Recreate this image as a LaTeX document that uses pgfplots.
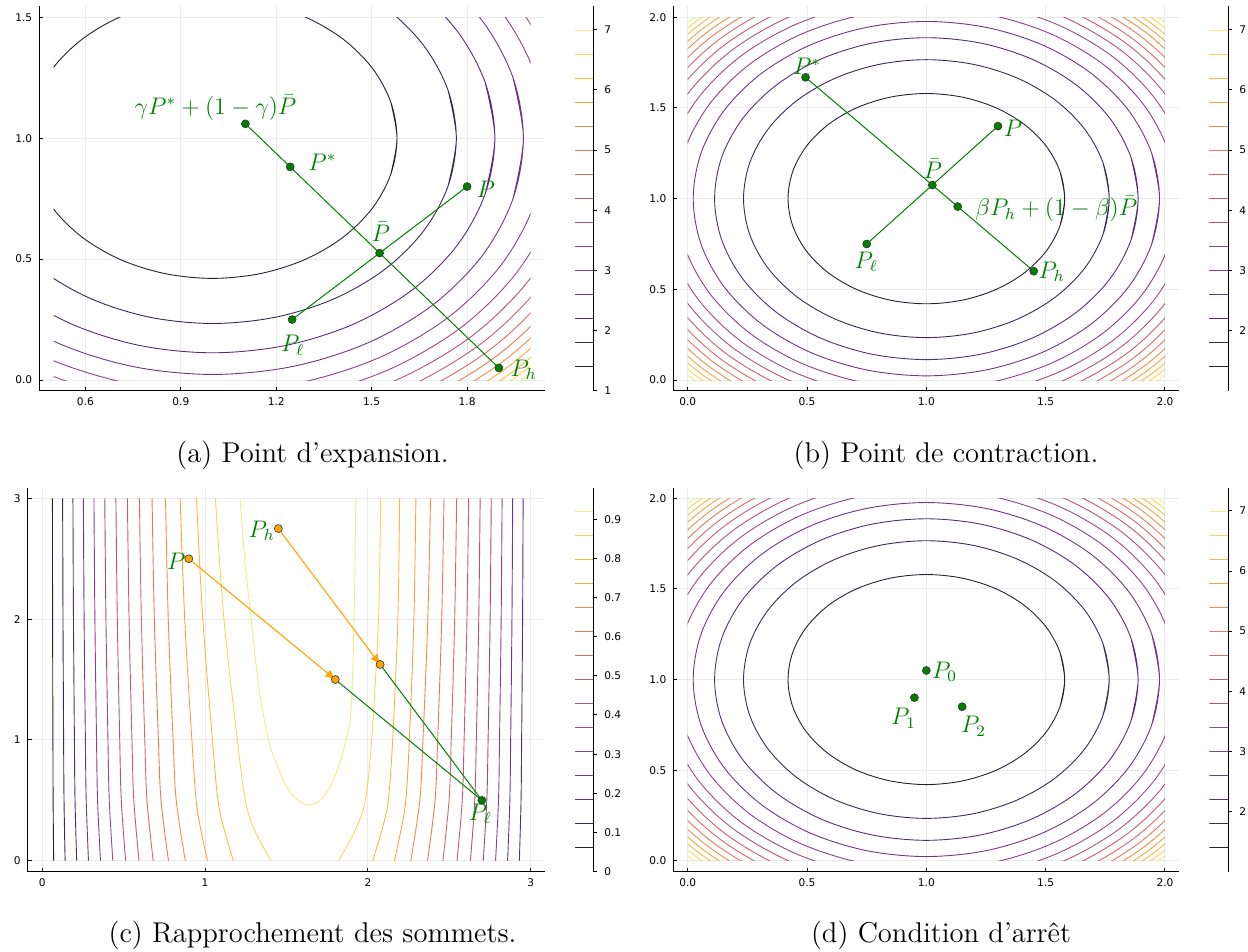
\documentclass[border=0pt]{standalone}
\usepackage{fontspec}
\usepackage{pgfplots}
\pgfplotsset{compat=1.18}
\usepackage{pgfplotstable}
\usetikzlibrary{arrows.meta}
\newfontfamily\tickfont{DejaVu Sans}
\newcommand\tfs{\tickfont\fontsize{5.3}{6}\selectfont}

\definecolor{pgreen}{RGB}{0,128,0}
\definecolor{porange}{RGB}{255,165,0}
\definecolor{gridc}{RGB}{234,234,234}
\definecolor{r1}{RGB}{14,7,37}
\definecolor{r2}{RGB}{33,11,69}
\definecolor{r3}{RGB}{62,10,98}
\definecolor{r4}{RGB}{86,17,107}
\definecolor{r5}{RGB}{111,25,109}
\definecolor{r6}{RGB}{137,34,105}
\definecolor{r7}{RGB}{162,44,96}
\definecolor{r8}{RGB}{188,55,84}
\definecolor{r9}{RGB}{209,71,68}
\definecolor{r10}{RGB}{227,91,50}
\definecolor{r11}{RGB}{241,115,29}
\definecolor{r12}{RGB}{248,143,18}
\definecolor{r13}{RGB}{252,171,18}
\definecolor{r14}{RGB}{248,203,55}
\definecolor{r15}{RGB}{248,230,105}
\colorlet{inf1}{r1!90!white}
\colorlet{inf2}{r2!88!white}
\colorlet{inf3}{r3!86!white}
\colorlet{inf4}{r4!84!white}
\colorlet{inf5}{r5!82!white}
\colorlet{inf6}{r6!82!white}
\colorlet{inf7}{r7!82!white}
\colorlet{inf8}{r8!82!white}
\colorlet{inf9}{r9!82!white}
\colorlet{inf10}{r10!82!white}
\colorlet{inf11}{r11!82!white}
\colorlet{inf12}{r12!82!white}
\colorlet{inf13}{r13!82!white}
\colorlet{inf14}{r14!82!white}
\colorlet{inf15}{r15!85!white}

% contour levels of exp((x-1)^2+(y-1)^2): circles about (1,1), 15 degree steps, seam overlapped
\pgfplotstableread{
x y
1.5599 0.8500
1.5797 1
1.5599 1.1500
1.5020 1.2899
1.4099 1.4099
1.2899 1.5020
1.1500 1.5599
1 1.5797
0.8500 1.5599
0.7101 1.5020
0.5901 1.4099
0.4980 1.2899
0.4401 1.1500
0.4203 1
0.4401 0.8500
0.4980 0.7101
0.5901 0.5901
0.7101 0.4980
0.8500 0.4401
1 0.4203
1.1500 0.4401
1.2899 0.4980
1.4099 0.5901
1.5020 0.7101
1.5599 0.8500
1.5797 1
1.5599 1.1500
}\cA
\pgfplotstableread{
x y
1.7401 0.8017
1.7662 1
1.7401 1.1983
1.6635 1.3831
1.5418 1.5418
1.3831 1.6635
1.1983 1.7401
1 1.7662
0.8017 1.7401
0.6169 1.6635
0.4582 1.5418
0.3365 1.3831
0.2599 1.1983
0.2338 1
0.2599 0.8017
0.3365 0.6169
0.4582 0.4582
0.6169 0.3365
0.8017 0.2599
1 0.2338
1.1983 0.2599
1.3831 0.3365
1.5418 0.4582
1.6635 0.6169
1.7401 0.8017
1.7662 1
1.7401 1.1983
}\cB
\pgfplotstableread{
x y
1.8571 0.7703
1.8874 1
1.8571 1.2297
1.7685 1.4437
1.6275 1.6275
1.4437 1.7685
1.2297 1.8571
1 1.8874
0.7703 1.8571
0.5563 1.7685
0.3725 1.6275
0.2315 1.4437
0.1429 1.2297
0.1126 1
0.1429 0.7703
0.2315 0.5563
0.3725 0.3725
0.5563 0.2315
0.7703 0.1429
1 0.1126
1.2297 0.1429
1.4437 0.2315
1.6275 0.3725
1.7685 0.5563
1.8571 0.7703
1.8874 1
1.8571 1.2297
}\cC
\pgfplotstableread{
x y
1.9437 0.7472
1.9770 1
1.9437 1.2528
1.8461 1.4885
1.6908 1.6908
1.4885 1.8461
1.2528 1.9437
1 1.9770
0.7472 1.9437
0.5115 1.8461
0.3092 1.6908
0.1539 1.4885
0.0563 1.2528
0.0230 1
0.0563 0.7472
0.1539 0.5115
0.3092 0.3092
0.5115 0.1539
0.7472 0.0563
1 0.0230
1.2528 0.0563
1.4885 0.1539
1.6908 0.3092
1.8461 0.5115
1.9437 0.7472
1.9770 1
1.9437 1.2528
}\cD
\pgfplotstableread{
x y
2.0119 0.7289
2.0476 1
2.0119 1.2711
1.9072 1.5238
1.7408 1.7408
1.5238 1.9072
1.2711 2.0119
1 2.0476
0.7289 2.0119
0.4762 1.9072
0.2592 1.7408
0.0928 1.5238
-0.0119 1.2711
-0.0476 1
-0.0119 0.7289
0.0928 0.4762
0.2592 0.2592
0.4762 0.0928
0.7289 -0.0119
1 -0.0476
1.2711 -0.0119
1.5238 0.0928
1.7408 0.2592
1.9072 0.4762
2.0119 0.7289
2.0476 1
2.0119 1.2711
}\cE
\pgfplotstableread{
x y
2.0680 0.7138
2.1057 1
2.0680 1.2862
1.9575 1.5529
1.7818 1.7818
1.5529 1.9575
1.2862 2.0680
1 2.1057
0.7138 2.0680
0.4471 1.9575
0.2182 1.7818
0.0425 1.5529
-0.0680 1.2862
-0.1057 1
-0.0680 0.7138
0.0425 0.4471
0.2182 0.2182
0.4471 0.0425
0.7138 -0.0680
1 -0.1057
1.2862 -0.0680
1.5529 0.0425
1.7818 0.2182
1.9575 0.4471
2.0680 0.7138
2.1057 1
2.0680 1.2862
}\cF
\pgfplotstableread{
x y
2.1155 0.7011
2.1549 1
2.1155 1.2989
2.0001 1.5775
1.8166 1.8166
1.5775 2.0001
1.2989 2.1155
1 2.1549
0.7011 2.1155
0.4225 2.0001
0.1834 1.8166
-0.0001 1.5775
-0.1155 1.2989
-0.1549 1
-0.1155 0.7011
-0.0001 0.4225
0.1834 0.1834
0.4225 -0.0001
0.7011 -0.1155
1 -0.1549
1.2989 -0.1155
1.5775 -0.0001
1.8166 0.1834
2.0001 0.4225
2.1155 0.7011
2.1549 1
2.1155 1.2989
}\cG
\pgfplotstableread{
x y
2.1566 0.6901
2.1974 1
2.1566 1.3099
2.0369 1.5987
1.8467 1.8467
1.5987 2.0369
1.3099 2.1566
1 2.1974
0.6901 2.1566
0.4013 2.0369
0.1533 1.8467
-0.0369 1.5987
-0.1566 1.3099
-0.1974 1
-0.1566 0.6901
-0.0369 0.4013
0.1533 0.1533
0.4013 -0.0369
0.6901 -0.1566
1 -0.1974
1.3099 -0.1566
1.5987 -0.0369
1.8467 0.1533
2.0369 0.4013
2.1566 0.6901
2.1974 1
2.1566 1.3099
}\cH
\pgfplotstableread{
x y
2.1927 0.6804
2.2348 1
2.1927 1.3196
2.0693 1.6174
1.8731 1.8731
1.6174 2.0693
1.3196 2.1927
1 2.2348
0.6804 2.1927
0.3826 2.0693
0.1269 1.8731
-0.0693 1.6174
-0.1927 1.3196
-0.2348 1
-0.1927 0.6804
-0.0693 0.3826
0.1269 0.1269
0.3826 -0.0693
0.6804 -0.1927
1 -0.2348
1.3196 -0.1927
1.6174 -0.0693
1.8731 0.1269
2.0693 0.3826
2.1927 0.6804
2.2348 1
2.1927 1.3196
}\cI
\pgfplotstableread{
x y
2.2249 0.6718
2.2681 1
2.2249 1.3282
2.0982 1.6341
1.8967 1.8967
1.6341 2.0982
1.3282 2.2249
1 2.2681
0.6718 2.2249
0.3659 2.0982
0.1033 1.8967
-0.0982 1.6341
-0.2249 1.3282
-0.2681 1
-0.2249 0.6718
-0.0982 0.3659
0.1033 0.1033
0.3659 -0.0982
0.6718 -0.2249
1 -0.2681
1.3282 -0.2249
1.6341 -0.0982
1.8967 0.1033
2.0982 0.3659
2.2249 0.6718
2.2681 1
2.2249 1.3282
}\cJ
\pgfplotstableread{
x y
2.2539 0.6641
2.2981 1
2.2539 1.3359
2.1242 1.6491
1.9179 1.9179
1.6491 2.1242
1.3359 2.2539
1 2.2981
0.6641 2.2539
0.3509 2.1242
0.0821 1.9179
-0.1242 1.6491
-0.2539 1.3359
-0.2981 1
-0.2539 0.6641
-0.1242 0.3509
0.0821 0.0821
0.3509 -0.1242
0.6641 -0.2539
1 -0.2981
1.3359 -0.2539
1.6491 -0.1242
1.9179 0.0821
2.1242 0.3509
2.2539 0.6641
2.2981 1
2.2539 1.3359
}\cK
\pgfplotstableread{
x y
2.2801 0.6570
2.3253 1
2.2801 1.3430
2.1477 1.6627
1.9371 1.9371
1.6627 2.1477
1.3430 2.2801
1 2.3253
0.6570 2.2801
0.3373 2.1477
0.0629 1.9371
-0.1477 1.6627
-0.2801 1.3430
-0.3253 1
-0.2801 0.6570
-0.1477 0.3373
0.0629 0.0629
0.3373 -0.1477
0.6570 -0.2801
1 -0.3253
1.3430 -0.2801
1.6627 -0.1477
1.9371 0.0629
2.1477 0.3373
2.2801 0.6570
2.3253 1
2.2801 1.3430
}\cL
\pgfplotstableread{
x y
2.3042 0.6506
2.3502 1
2.3042 1.3494
2.1693 1.6751
1.9547 1.9547
1.6751 2.1693
1.3494 2.3042
1 2.3502
0.6506 2.3042
0.3249 2.1693
0.0453 1.9547
-0.1693 1.6751
-0.3042 1.3494
-0.3502 1
-0.3042 0.6506
-0.1693 0.3249
0.0453 0.0453
0.3249 -0.1693
0.6506 -0.3042
1 -0.3502
1.3494 -0.3042
1.6751 -0.1693
1.9547 0.0453
2.1693 0.3249
2.3042 0.6506
2.3502 1
2.3042 1.3494
}\cM
\pgfplotstableread{
x y
2.3264 0.6446
2.3732 1
2.3264 1.3554
2.1892 1.6866
1.9710 1.9710
1.6866 2.1892
1.3554 2.3264
1 2.3732
0.6446 2.3264
0.3134 2.1892
0.0290 1.9710
-0.1892 1.6866
-0.3264 1.3554
-0.3732 1
-0.3264 0.6446
-0.1892 0.3134
0.0290 0.0290
0.3134 -0.1892
0.6446 -0.3264
1 -0.3732
1.3554 -0.3264
1.6866 -0.1892
1.9710 0.0290
2.1892 0.3134
2.3264 0.6446
2.3732 1
2.3264 1.3554
}\cN
\pgfplotstableread{
x y
2.3469 0.6391
2.3944 1
2.3469 1.3609
2.2076 1.6972
1.9860 1.9860
1.6972 2.2076
1.3609 2.3469
1 2.3944
0.6391 2.3469
0.3028 2.2076
0.0140 1.9860
-0.2076 1.6972
-0.3469 1.3609
-0.3944 1
-0.3469 0.6391
-0.2076 0.3028
0.0140 0.0140
0.3028 -0.2076
0.6391 -0.3469
1 -0.3944
1.3609 -0.3469
1.6972 -0.2076
1.9860 0.0140
2.2076 0.3028
2.3469 0.6391
2.3944 1
2.3469 1.3609
}\cO

\tikzset{lbl/.style={font=\fontsize{11.5}{13}\selectfont, text=pgreen, anchor=base west, inner sep=0pt}}
\pgfplotsset{
  panel/.style={scale only axis, anchor=north west, axis lines*=left,
    axis line style={black, line width=0.5pt, -},
    tick align=inside, major tick length=2pt, tick style={black, line width=0.5pt},
    grid=major, grid style={gridc, line width=0.5pt},
    ticklabel style={font=\tfs},
    /pgf/number format/assume math mode=true},
  dec1/.style={xticklabel style={/pgf/number format/.cd, fixed, fixed zerofill, precision=1},
    yticklabel style={/pgf/number format/.cd, fixed, fixed zerofill, precision=1}},
  cbar/.style={scale only axis, anchor=north west,
    xmin=0, xmax=1, axis x line=none, axis y line*=right,
    axis line style={black, line width=0.5pt, -}, tick align=outside, major tick length=2pt,
    tick style={black, line width=0.5pt}, ticklabel style={font=\tfs},
    /pgf/number format/assume math mode=true},
  ctr/.style={smooth, tension=0.55, line width=0.45pt, no markers},
  cb/.style={line width=0.45pt, no markers},
  gmk/.style={only marks, mark=*, mark size=2pt, mark options={fill=pgreen, draw=black!80, line width=0.3pt}},
  omk/.style={only marks, mark=*, mark size=2pt, mark options={fill=porange, draw=black!80, line width=0.3pt}},
  gln/.style={pgreen, line width=0.5pt, no markers},
}

\newcommand\circles{%
  \addplot[ctr, inf1] table {\cA};
  \addplot[ctr, inf2] table {\cB};
  \addplot[ctr, inf3] table {\cC};
  \addplot[ctr, inf4] table {\cD};
  \addplot[ctr, inf5] table {\cE};
  \addplot[ctr, inf6] table {\cF};
  \addplot[ctr, inf7] table {\cG};
  \addplot[ctr, inf8] table {\cH};
  \addplot[ctr, inf9] table {\cI};
  \addplot[ctr, inf10] table {\cJ};
  \addplot[ctr, inf11] table {\cK};
  \addplot[ctr, inf12] table {\cL};
  \addplot[ctr, inf13] table {\cM};
  \addplot[ctr, inf14] table {\cN};
  \addplot[ctr, inf15] table {\cO};
}
\newcommand\cbarexp{%
  \addplot[cb, inf1] coordinates {(0,1.3993) (1,1.3993)};
  \addplot[cb, inf2] coordinates {(0,1.7986) (1,1.7986)};
  \addplot[cb, inf3] coordinates {(0,2.1979) (1,2.1979)};
  \addplot[cb, inf4] coordinates {(0,2.5972) (1,2.5972)};
  \addplot[cb, inf5] coordinates {(0,2.9965) (1,2.9965)};
  \addplot[cb, inf6] coordinates {(0,3.3958) (1,3.3958)};
  \addplot[cb, inf7] coordinates {(0,3.7951) (1,3.7951)};
  \addplot[cb, inf8] coordinates {(0,4.1944) (1,4.1944)};
  \addplot[cb, inf9] coordinates {(0,4.5937) (1,4.5937)};
  \addplot[cb, inf10] coordinates {(0,4.9930) (1,4.9930)};
  \addplot[cb, inf11] coordinates {(0,5.3923) (1,5.3923)};
  \addplot[cb, inf12] coordinates {(0,5.7916) (1,5.7916)};
  \addplot[cb, inf13] coordinates {(0,6.1909) (1,6.1909)};
  \addplot[cb, inf14] coordinates {(0,6.5902) (1,6.5902)};
  \addplot[cb, inf15] coordinates {(0,6.9895) (1,6.9895)};
}

\begin{document}
\begin{tikzpicture}
\useasboundingbox (0,0) rectangle (624pt,-476pt);

% ---------------- (a)
\begin{axis}[panel, dec1, at={(19.65pt,-3.2pt)}, width=252.85pt, height=192.25pt,
  xmin=0.455, xmax=2.045, ymin=-0.045, ymax=1.545,
  xtick={0.6,0.9,1.2,1.5,1.8}, ytick={0,0.5,1,1.5}]
\begin{scope}
\clip (0.5,0) rectangle (2,1.5);
\circles
\end{scope}
\addplot[gln] coordinates {(1.9,0.05) (1.525,0.525) (1.2438,0.8813) (1.1031,1.0594)};
\addplot[gln] coordinates {(1.25,0.25) (1.525,0.525) (1.8,0.8)};
\addplot[gmk] coordinates {(1.1031,1.0594) (1.2438,0.8813) (1.8,0.8) (1.525,0.525) (1.25,0.25) (1.9,0.05)};
\node[lbl, anchor=base] at (1.009,1.099) {$\gamma P^{*}+(1-\gamma)\bar{P}$};
\node[lbl] at (1.300,0.866) {$P^{*}$};
\node[lbl] at (1.829,0.756) {$P$};
\node[lbl, anchor=base] at (1.529,0.572) {$\bar{P}$};
\node[lbl] at (1.214,0.117) {$P_{\ell}$};
\node[lbl] at (1.936,0.0165) {$P_{h}$};
\end{axis}
\begin{axis}[cbar, at={(287.5pt,-3.2pt)}, width=9.15pt, height=192.25pt,
  ymin=1, ymax=7.389, ytick={1,2,3,4,5,6,7}]
\cbarexp
\end{axis}

% ---------------- (b)
\begin{axis}[panel, dec1, at={(336.7pt,-3.2pt)}, width=252.95pt, height=192.25pt,
  xmin=-0.06, xmax=2.06, ymin=-0.06, ymax=2.06,
  xtick={0,0.5,1,1.5,2}, ytick={0,0.5,1,1.5,2}]
\begin{scope}
\clip (0,0) rectangle (2,2);
\circles
\end{scope}
\addplot[gln] coordinates {(0.4938,1.6688) (1.025,1.075) (1.1313,0.9563) (1.45,0.6)};
\addplot[gln] coordinates {(0.75,0.75) (1.025,1.075) (1.3,1.4)};
\addplot[gmk] coordinates {(0.4938,1.6688) (1.3,1.4) (1.025,1.075) (1.1313,0.9563) (0.75,0.75) (1.45,0.6)};
\node[lbl] at (0.440,1.682) {$P^{*}$};
\node[lbl] at (1.323,1.342) {$P$};
\node[lbl, anchor=base] at (1.027,1.109) {$\bar{P}$};
\node[lbl] at (1.204,0.905) {$\beta P_{h}+(1-\beta)\bar{P}$};
\node[lbl] at (0.698,0.616) {$P_{\ell}$};
\node[lbl] at (1.469,0.561) {$P_{h}$};
\end{axis}
\begin{axis}[cbar, at={(604.5pt,-3.2pt)}, width=9.65pt, height=192.25pt,
  ymin=1, ymax=7.389, ytick={2,3,4,5,6,7}]
\cbarexp
\end{axis}

% ---------------- (c)
\begin{axis}[panel, at={(13.8pt,-243.75pt)}, width=258.9pt, height=192.05pt,
  xmin=-0.09, xmax=3.09, ymin=-0.09, ymax=3.09,
  xtick={0,1,2,3}, ytick={0,1,2,3}]
\addplot[ctr, inf1] coordinates {(0.0700,0) (0.0667,0.5) (0.0655,1) (0.0636,2) (0.0625,3)};
\addplot[ctr, inf2] coordinates {(0.1404,0) (0.1337,0.5) (0.1312,1) (0.1274,2) (0.1252,3)};
\addplot[ctr, inf3] coordinates {(0.2115,0) (0.2012,0.5) (0.1975,1) (0.1917,2) (0.1884,3)};
\addplot[ctr, inf4] coordinates {(0.2838,0) (0.2699,0.5) (0.2649,1) (0.2570,2) (0.2525,3)};
\addplot[ctr, inf5] coordinates {(0.3576,0) (0.3397,0.5) (0.3333,1) (0.3233,2) (0.3175,3)};
\addplot[ctr, inf6] coordinates {(0.4334,0) (0.4115,0.5) (0.4035,1) (0.3911,2) (0.3840,3)};
\addplot[ctr, inf7] coordinates {(0.5120,0) (0.4854,0.5) (0.4758,1) (0.4609,2) (0.4523,3)};
\addplot[ctr, inf8] coordinates {(0.5943,0) (0.5623,0.5) (0.5509,1) (0.5332,2) (0.5230,3)};
\addplot[ctr, inf9] coordinates {(0.6814,0) (0.6432,0.5) (0.6297,1) (0.6087,2) (0.5967,3)};
\addplot[ctr, inf10] coordinates {(0.7753,0) (0.7294,0.5) (0.7133,1) (0.6884,2) (0.6744,3)};
\addplot[ctr, inf11] coordinates {(0.8785,0) (0.8228,0.5) (0.8035,1) (0.7738,2) (0.7570,3)};
\addplot[ctr, inf12] coordinates {(1.0150,0) (0.9750,0.25) (0.9450,0.5) (0.9190,1) (0.8750,2) (0.8470,3)};
\addplot[ctr, inf13] coordinates {(1.1740,0) (1.1190,0.25) (1.0790,0.5) (1.0450,1) (0.9860,2) (0.9470,3)};
\addplot[ctr, inf14] coordinates {(1.4050,0) (1.3050,0.25) (1.2470,0.5) (1.1980,1) (1.1160,2) (1.0635,3)};
\addplot[ctr, inf15] coordinates {(1.2150,3) (1.2430,2.5) (1.2830,2) (1.3150,1.6) (1.3420,1.33) (1.3890,1.0) (1.4300,0.834) (1.4810,0.668) (1.5430,0.530) (1.6290,0.461) (1.7070,0.502) (1.7680,0.613) (1.8190,0.778) (1.8600,0.972) (1.8910,1.165) (1.9050,1.5) (1.9150,2) (1.9210,2.5) (1.9260,3)};
\addplot[ctr, inf14] coordinates {(1.8200,0) (1.9210,0.25) (1.9840,0.5) (2.0230,1) (2.0650,2) (2.0781,3)};
\addplot[ctr, inf13] coordinates {(2.0290,0) (2.0850,0.25) (2.1250,0.5) (2.1520,1) (2.1840,2) (2.1946,3)};
\addplot[ctr, inf12] coordinates {(2.1625,0) (2.2024,0.25) (2.2326,0.5) (2.2545,1) (2.2824,2) (2.2946,3)};
\addplot[ctr, inf11] coordinates {(2.2631,0) (2.3188,0.5) (2.3381,1) (2.3678,2) (2.3846,3)};
\addplot[ctr, inf10] coordinates {(2.3663,0) (2.4122,0.5) (2.4283,1) (2.4532,2) (2.4672,3)};
\addplot[ctr, inf9] coordinates {(2.4602,0) (2.4984,0.5) (2.5119,1) (2.5329,2) (2.5449,3)};
\addplot[ctr, inf8] coordinates {(2.5473,0) (2.5793,0.5) (2.5907,1) (2.6084,2) (2.6186,3)};
\addplot[ctr, inf7] coordinates {(2.6296,0) (2.6562,0.5) (2.6658,1) (2.6807,2) (2.6893,3)};
\addplot[ctr, inf6] coordinates {(2.7082,0) (2.7301,0.5) (2.7381,1) (2.7505,2) (2.7576,3)};
\addplot[ctr, inf5] coordinates {(2.7840,0) (2.8019,0.5) (2.8083,1) (2.8183,2) (2.8241,3)};
\addplot[ctr, inf4] coordinates {(2.8578,0) (2.8717,0.5) (2.8767,1) (2.8846,2) (2.8891,3)};
\addplot[ctr, inf3] coordinates {(2.9301,0) (2.9404,0.5) (2.9441,1) (2.9499,2) (2.9532,3)};
\addplot[gln] coordinates {(1.8,1.5) (2.7,0.5)};
\addplot[gln] coordinates {(2.075,1.625) (2.7,0.5)};
\addplot[porange, line width=0.55pt, no markers, -{Latex[length=5pt,width=4.5pt]}] coordinates {(0.9,2.5) (1.8,1.5)};
\addplot[porange, line width=0.55pt, no markers, -{Latex[length=5pt,width=4.5pt]}] coordinates {(1.45,2.75) (2.075,1.625)};
\addplot[omk] coordinates {(0.9,2.5) (1.45,2.75) (1.8,1.5) (2.075,1.625)};
\addplot[gmk] coordinates {(2.7,0.5)};
\node[lbl] at (1.265,2.677) {$P_{h}$};
\node[lbl] at (0.764,2.412) {$P$};
\node[lbl] at (2.617,0.337) {$P_{\ell}$};
\end{axis}
\begin{axis}[cbar, at={(287.5pt,-243.75pt)}, width=9.15pt, height=192.05pt,
  ymin=0, ymax=0.981, ytick={0,0.1,0.2,0.3,0.4,0.5,0.6,0.7,0.8,0.9}]
\addplot[cb, inf1] coordinates {(0,0.0613) (1,0.0613)};
\addplot[cb, inf2] coordinates {(0,0.1226) (1,0.1226)};
\addplot[cb, inf3] coordinates {(0,0.1839) (1,0.1839)};
\addplot[cb, inf4] coordinates {(0,0.2453) (1,0.2453)};
\addplot[cb, inf5] coordinates {(0,0.3066) (1,0.3066)};
\addplot[cb, inf6] coordinates {(0,0.3679) (1,0.3679)};
\addplot[cb, inf7] coordinates {(0,0.4292) (1,0.4292)};
\addplot[cb, inf8] coordinates {(0,0.4905) (1,0.4905)};
\addplot[cb, inf9] coordinates {(0,0.5518) (1,0.5518)};
\addplot[cb, inf10] coordinates {(0,0.6131) (1,0.6131)};
\addplot[cb, inf11] coordinates {(0,0.6744) (1,0.6744)};
\addplot[cb, inf12] coordinates {(0,0.7358) (1,0.7358)};
\addplot[cb, inf13] coordinates {(0,0.7971) (1,0.7971)};
\addplot[cb, inf14] coordinates {(0,0.8584) (1,0.8584)};
\addplot[cb, inf15] coordinates {(0,0.9197) (1,0.9197)};
\end{axis}

% ---------------- (d)
\begin{axis}[panel, dec1, at={(336.7pt,-243.75pt)}, width=252.95pt, height=192.05pt,
  xmin=-0.06, xmax=2.06, ymin=-0.06, ymax=2.06,
  xtick={0,0.5,1,1.5,2}, ytick={0,0.5,1,1.5,2}]
\begin{scope}
\clip (0,0) rectangle (2,2);
\circles
\end{scope}
\addplot[gmk] coordinates {(1.0,1.05) (0.95,0.9) (1.15,0.85)};
\node[lbl] at (1.023,1.008) {$P_{0}$};
\node[lbl] at (0.851,0.750) {$P_{1}$};
\node[lbl] at (1.144,0.705) {$P_{2}$};
\end{axis}
\begin{axis}[cbar, at={(604.65pt,-243.75pt)}, width=9.5pt, height=192.05pt,
  ymin=1, ymax=7.389, ytick={2,3,4,5,6,7}]
\cbarexp
\end{axis}

% captions
\node[font=\fontsize{14.3}{17}\selectfont, anchor=base] at (156.25pt,-231pt) {(a) Point d'expansion.};
\node[font=\fontsize{14.3}{17}\selectfont, anchor=base] at (473pt,-231pt) {(b) Point de contraction.};
\node[font=\fontsize{14.3}{17}\selectfont, anchor=base] at (156.25pt,-471pt) {(c) Rapprochement des sommets.};
\node[font=\fontsize{14.3}{17}\selectfont, anchor=base] at (470.5pt,-471pt) {(d) Condition d'arrêt};
\end{tikzpicture}
\end{document}
